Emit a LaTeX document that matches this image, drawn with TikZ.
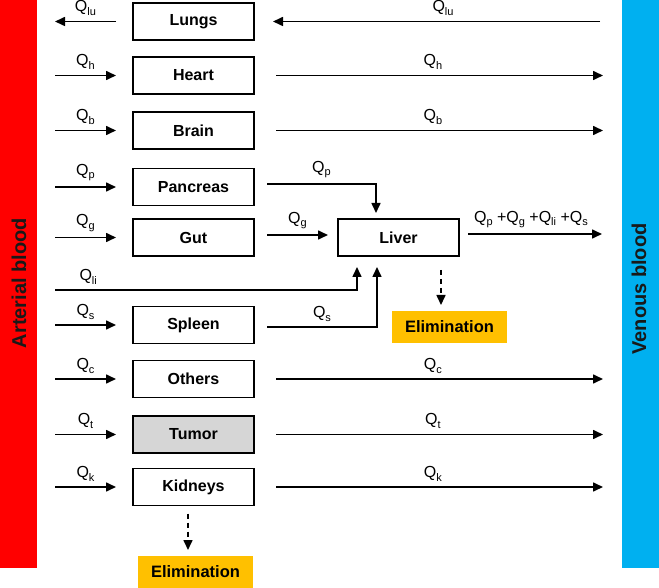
\documentclass[tikz,border=0pt]{standalone}
\usepackage{fontspec}
\setmainfont{Liberation Sans}
\usetikzlibrary{arrows.meta,calc}
\definecolor{artred}{HTML}{FF0000}
\definecolor{venblue}{HTML}{00B0F0}
\definecolor{elimcol}{HTML}{FFC000}
\definecolor{tumgray}{HTML}{D6D6D6}
\newcommand\Qsub[1]{Q\raisebox{-0.45ex}{\fontsize{11}{11}\selectfont #1}}
\begin{document}
\begin{tikzpicture}[x=1pt,y=-1pt,
  organ/.style={draw, line width=1.2pt, minimum width=121pt, minimum height=37pt, inner sep=0pt, outer sep=0pt, font=\fontsize{16}{16}\selectfont\bfseries},
  elimbox/.style={fill=elimcol, minimum width=115pt, minimum height=32pt, inner sep=0pt, outer sep=0pt, font=\fontsize{16.5}{16.5}\selectfont\bfseries},
  flow/.style={line width=1.6pt, -{Triangle[length=10pt,width=9pt]}},
  dflow/.style={line width=1.6pt, dash pattern=on 5pt off 4pt, -{Triangle[length=10pt,width=9pt]}},
  lab/.style={font=\fontsize{16}{16}\selectfont, inner sep=0pt, above=5pt},
  bartext/.style={font=\fontsize{20}{20}\selectfont\bfseries, rotate=90, text=black!90}]
\useasboundingbox (0,0) rectangle (659,588);
% blood bars
\node[fill=artred, minimum width=37pt, minimum height=568pt, inner sep=0pt, anchor=north west] (art) at (0,0) {};
\node[fill=venblue, minimum width=37pt, minimum height=568pt, inner sep=0pt, anchor=north west] (ven) at (622,0) {};
\node[bartext] (arttext) at (19,283) {Arterial blood};
\node[bartext] (ventext) at (639,289) {Venous blood};
% organs
\node[organ] (lungs) at (193.5,21.5) {Lungs};
\node[organ] (heart) at (193.5,75.5) {Heart};
\node[organ] (brain) at (193.5,130.5) {Brain};
\node[organ] (pancreas) at (193.5,187) {Pancreas};
\node[organ] (gut) at (193.5,237.5) {Gut};
\node[organ] (spleen) at (193.5,325) {Spleen};
\node[organ] (others) at (193.5,379) {Others};
\node[organ, fill=tumgray] (tumor) at (193.5,434.5) {Tumor};
\node[organ] (kidneys) at (193.5,487) {Kidneys};
\node[organ] (liver) at (398.5,237.5) {Liver};
\node[elimbox] (elimL) at (449.5,327) {Elimination};
\node[elimbox] (elimK) at (195.5,572) {Elimination};
% helper coordinates
\coordinate (liIn) at (55,290);
\coordinate (liBend) at (357,290);
\coordinate (pBend) at (376,184);
\coordinate (sBend) at (377,327);
% lungs
\draw[flow] ($(lungs.west)+(-17,0)$) -- node[lab] {\Qsub{lu}} ($(lungs.west)+(-78,0)$);
\draw[flow] ($(lungs.east)+(346,0)$) -- node[lab, pos=0.48] {\Qsub{lu}} ($(lungs.east)+(19,0)$);
% inflows from arterial blood
\foreach \n/\s in {heart/h, brain/b, pancreas/p, gut/g, spleen/s, others/c, tumor/t, kidneys/k}{
  \draw[flow] ($(\n.west)+(-78,0)$) -- node[lab] {\Qsub{\s}} ($(\n.west)+(-17,0)$);
}
% outflows to venous blood
\foreach \n/\s in {heart/h, brain/b, others/c, tumor/t, kidneys/k}{
  \draw[flow] ($(\n.east)+(22,0)$) -- node[lab, pos=0.48] {\Qsub{\s}} ($(\n.east)+(349,0)$);
}
% splanchnic flows into liver
\draw[flow] (pancreas.east |- pBend) ++(13,0) -- node[lab] {\Qsub{p}} (pBend) -- ($(pBend |- liver.north)+(0,-6)$);
\draw[flow] ($(gut.east)+(13,-2.5)$) -- node[lab] {\Qsub{g}} ($(liver.west)+(-10,-2.5)$);
\draw[flow] (liIn) -- node[lab, pos=0.11] {\Qsub{li}} (liBend) -- ($(liBend |- liver.south)+(0,11)$);
\draw[flow] (spleen.east |- sBend) ++(13,0) -- node[lab] {\Qsub{s}} (sBend) -- ($(sBend |- liver.south)+(0,11)$);
% liver outflow
\draw[flow] ($(liver.east)+(9,-3.5)$) -- node[lab, pos=0.47] {\Qsub{p} +\Qsub{g} +\Qsub{li} +\Qsub{s}} ($(liver.east)+(143,-3.5)$);
% elimination
\draw[dflow] ($(liver.south)+(42.5,14)$) -- ($(elimL.north)+(-8.5,-6)$);
\draw[dflow] ($(kidneys.south)+(-5.5,8)$) -- ($(elimK.north)+(-7.5,-6)$);
\end{tikzpicture}
\end{document}
